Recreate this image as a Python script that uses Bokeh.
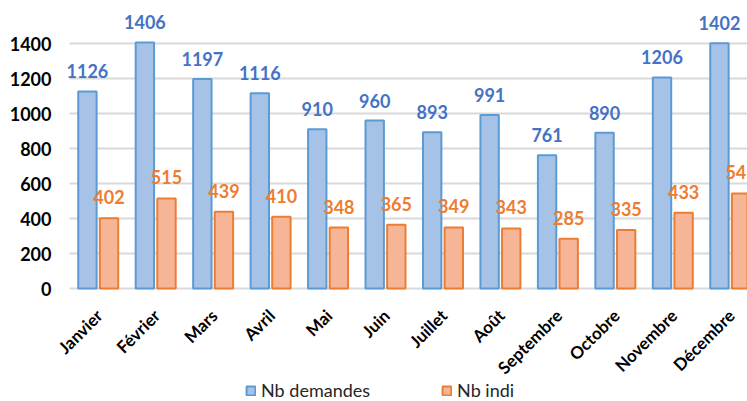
import math
from bokeh.plotting import figure
from bokeh.models import ColumnDataSource, FixedTicker, Legend, LegendItem, Range1d
from bokeh.core.properties import value
from bokeh.embed import file_html
from bokeh.resources import INLINE

months = ["Janvier", "Février", "Mars", "Avril", "Mai", "Juin", "Juillet", "Août",
          "Septembre", "Octobre", "Novembre", "Décembre"]
nb_demandes = [1126, 1406, 1197, 1116, 910, 960, 893, 991, 761, 890, 1206, 1402]
nb_indi = [402, 515, 439, 410, 348, 365, 349, 343, 285, 335, 433, 543]
y_ticks = [0, 200, 400, 600, 800, 1000, 1200, 1400]

X_START, X_END = -0.2785, 11.80
OFF = 0.188
BW = 0.32
centers = [i + 0.5 for i in range(len(months))]
src = ColumnDataSource(dict(
    xb=[c - OFF for c in centers],
    xo=[c + OFF for c in centers],
    blue=nb_demandes,
    orange=nb_indi,
    blue_txt=[str(v) for v in nb_demandes],
    orange_txt=[str(v) for v in nb_indi],
))
msrc = ColumnDataSource(dict(x=centers, y=[0] * len(months), m=months))
gsrc = ColumnDataSource(dict(x0=[0] * len(y_ticks), x1=[X_END] * len(y_ticks), y=y_ticks))

p = figure(frame_width=694, frame_height=393, output_backend="svg", toolbar_location=None,
           x_range=Range1d(X_START, X_END), y_range=Range1d(-645.7, 1600),
           min_border_left=53, min_border_right=0, min_border_top=8, min_border_bottom=0)
p.outline_line_color = None
p.background_fill_color = "white"

# horizontal grid lines (start at the plot area's left edge)
p.segment(x0="x0", x1="x1", y0="y", y1="y", source=gsrc,
          line_color="#d9d9d9", line_width=2)

rb = p.vbar(x="xb", top="blue", bottom=0, width=BW, source=src,
            fill_color="#a7c2e7", line_color="#5b9bd5", line_width=2)
ro = p.vbar(x="xo", top="orange", bottom=0, width=BW, source=src,
            fill_color="#f7b597", line_color="#ed7d31", line_width=2)

p.text(x="xb", y="blue", text="blue_txt", source=src, text_font=value("Lato"),
       text_font_style="bold", text_font_size="18px", text_color="#4472c4",
       text_align="center", text_baseline="bottom", y_offset=-13)
p.text(x="xo", y="orange", text="orange_txt", source=src, text_font=value("Lato"),
       text_font_style="bold", text_font_size="18px", text_color="#ed7d31",
       text_align="center", text_baseline="bottom", y_offset=-14)

# month category labels (rotated 45°)
p.text(x="x", y="y", text="m", source=msrc, angle=math.pi / 4,
       text_font=value("Lato"), text_font_style="bold", text_font_size="17px",
       text_color="#000000", text_align="right", text_baseline="middle",
       x_offset=1, y_offset=24)

p.xaxis.visible = False
p.yaxis.ticker = FixedTicker(ticks=y_ticks)
p.yaxis.axis_line_color = None
p.yaxis.major_tick_line_color = None
p.yaxis.minor_tick_line_color = None
p.yaxis.major_tick_out = 0
p.yaxis.major_tick_in = 0
p.yaxis.major_label_standoff = 2
p.yaxis.major_label_text_font = "Lato"
p.yaxis.major_label_text_font_style = "bold"
p.yaxis.major_label_text_font_size = "18px"
p.yaxis.major_label_text_color = "#000000"

p.xgrid.grid_line_color = None
p.ygrid.grid_line_color = None

legend = Legend(items=[LegendItem(label="Nb demandes", renderers=[rb]),
                       LegendItem(label="Nb indi", renderers=[ro])],
                orientation="horizontal", location=(192, 0),
                glyph_width=11, glyph_height=11, label_standoff=5, spacing=71,
                label_height=18,
                label_text_font="Lato", label_text_font_size="18px",
                label_text_color="#262626", border_line_color=None,
                background_fill_alpha=0, padding=0, margin=0)
p.add_layout(legend, "center")

open("out.html", "w").write(file_html(p, INLINE))
